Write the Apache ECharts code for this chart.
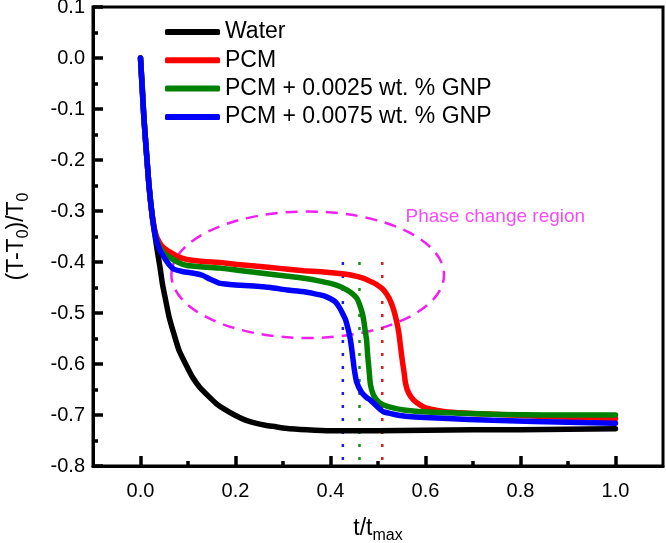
<!DOCTYPE html>
<html><head><meta charset="utf-8">
<script src="https://cdn.jsdelivr.net/npm/echarts@6/dist/echarts.min.js"></script>
<style>html,body{margin:0;padding:0;background:#fff}#c{width:666px;height:543px}</style>
</head><body><div id="c"></div>
<script>
const FONT = '"Liberation Sans", Arial, sans-serif';
const seriesNames = ['Water', 'PCM', 'PCM + 0.0025 wt. % GNP', 'PCM + 0.0075 wt. % GNP'];
const seriesColors = ['#000000', '#ff0000', '#008000', '#0000ff'];

const waterData = [[0,0],[0.004,-0.06],[0.007,-0.115],[0.012,-0.18],[0.0175,-0.246],[0.0246,-0.311],[0.03,-0.345],[0.035,-0.376],[0.041,-0.41],[0.046,-0.442],[0.053,-0.475],[0.06,-0.507],[0.07,-0.54],[0.081,-0.573],[0.095,-0.6],[0.109,-0.625],[0.125,-0.646],[0.144,-0.664],[0.16,-0.678],[0.179,-0.69],[0.2,-0.701],[0.221,-0.71],[0.242,-0.716],[0.263,-0.72],[0.285,-0.723],[0.305,-0.726],[0.35,-0.729],[0.4,-0.731],[0.5,-0.731],[0.6,-0.73],[0.7,-0.729],[0.8,-0.729],[0.9,-0.728],[1.0,-0.727]];

const pcmData = [[0,0],[0.007,-0.115],[0.0175,-0.246],[0.025,-0.311],[0.032,-0.345],[0.04,-0.362],[0.049,-0.372],[0.063,-0.381],[0.08,-0.39],[0.098,-0.395],[0.133,-0.399],[0.168,-0.401],[0.204,-0.405],[0.24,-0.408],[0.274,-0.411],[0.31,-0.414],[0.344,-0.417],[0.38,-0.419],[0.414,-0.422],[0.445,-0.426],[0.47,-0.432],[0.484,-0.438],[0.497,-0.444],[0.512,-0.455],[0.524,-0.472],[0.533,-0.494],[0.54,-0.52],[0.544,-0.54],[0.548,-0.57],[0.551,-0.592],[0.555,-0.617],[0.558,-0.638],[0.564,-0.656],[0.575,-0.671],[0.59,-0.681],[0.604,-0.687],[0.625,-0.691],[0.646,-0.694],[0.7,-0.697],[0.758,-0.699],[0.85,-0.703],[0.95,-0.706],[1.0,-0.707]];

const gnp25Data = [[0,0],[0.007,-0.115],[0.0175,-0.246],[0.025,-0.311],[0.032,-0.35],[0.04,-0.37],[0.049,-0.382],[0.063,-0.392],[0.08,-0.401],[0.098,-0.407],[0.133,-0.41],[0.168,-0.412],[0.204,-0.416],[0.24,-0.42],[0.274,-0.424],[0.31,-0.428],[0.344,-0.432],[0.375,-0.437],[0.4,-0.442],[0.42,-0.448],[0.435,-0.455],[0.447,-0.463],[0.456,-0.472],[0.465,-0.494],[0.47,-0.514],[0.473,-0.535],[0.476,-0.553],[0.478,-0.58],[0.481,-0.61],[0.484,-0.64],[0.49,-0.66],[0.497,-0.67],[0.505,-0.677],[0.52,-0.683],[0.554,-0.69],[0.625,-0.695],[0.758,-0.699],[0.85,-0.7],[1.0,-0.7]];

const gnp75Data = [[0,0],[0.007,-0.115],[0.0175,-0.246],[0.025,-0.311],[0.032,-0.352],[0.04,-0.375],[0.049,-0.39],[0.06,-0.405],[0.07,-0.414],[0.09,-0.419],[0.112,-0.422],[0.13,-0.426],[0.145,-0.433],[0.168,-0.442],[0.2,-0.445],[0.239,-0.447],[0.274,-0.45],[0.309,-0.455],[0.34,-0.458],[0.365,-0.462],[0.385,-0.466],[0.4,-0.472],[0.41,-0.478],[0.418,-0.488],[0.425,-0.5],[0.432,-0.514],[0.438,-0.535],[0.442,-0.553],[0.446,-0.58],[0.45,-0.61],[0.455,-0.635],[0.465,-0.655],[0.475,-0.665],[0.484,-0.671],[0.5,-0.685],[0.512,-0.694],[0.554,-0.702],[0.625,-0.706],[0.758,-0.711],[0.9,-0.714],[1.0,-0.716]];

const dottedRed = [[0.509,-0.4],[0.509,-0.8]];
const dottedGreen = [[0.461,-0.4],[0.461,-0.8]];
const dottedBlue = [[0.426,-0.4],[0.426,-0.8]];

// ellipse: centre x, centre y, radius x, radius y (data units)
const regionEllipse = [0.352, -0.425, 0.287, 0.124];
const regionLabel = 'Phase change region';
const regionLabelPos = [0.558, -0.312];

const xMajorTicks = [0, 0.2, 0.4, 0.6, 0.8, 1.0];
const xMinorTicks = [0.1, 0.3, 0.5, 0.7, 0.9];
const yMin = -0.8, yMax = 0.1, yStep = 0.1;
const xMin = -0.1, xMax = 1.1;

const chart = echarts.init(document.getElementById('c'), null, {renderer: 'canvas'});
const fmt = v => (Math.abs(v) < 1e-9 ? 0 : v).toFixed(1);
const tickStyle = {color: '#000', width: 3.5};

const curves = [waterData, pcmData, gnp25Data, gnp75Data].map((d, i) => ({
  name: seriesNames[i], type: 'line', data: d, symbol: 'none', smooth: 0.15,
  color: seriesColors[i], lineStyle: {width: 5.5, color: seriesColors[i], cap: 'round', join: 'round'},
  z: 3 + i, animation: false
}));
const dotted = [[dottedBlue, '#1a1aee'], [dottedGreen, '#1e8a1e'], [dottedRed, '#d42020']].map(([d, c]) => ({
  type: 'line', data: d, symbol: 'none', silent: true, z: 2, animation: false,
  lineStyle: {width: 2.5, color: c, type: [3, 10]}
}));

chart.setOption({
  backgroundColor: '#fff',
  animation: false,
  grid: {left: 93, top: 7, right: 3, bottom: 77, show: true, borderColor: '#000', borderWidth: 3, backgroundColor: 'transparent', containLabel: false, outerBoundsMode: 'none'},
  legend: {
    data: seriesNames, orient: 'vertical', left: 160, top: 15, itemWidth: 55, itemHeight: 6, itemGap: 4.3,
    icon: 'roundRect', textStyle: {fontSize: 23, fontFamily: FONT, color: '#000', lineHeight: 24}
  },
  xAxis: [{
    type: 'value', min: xMin, max: xMax, position: 'bottom',
    axisLine: {show: true, onZero: false, lineStyle: {color: '#000', width: 3}},
    axisTick: {show: true, inside: true, length: 10, customValues: xMajorTicks, lineStyle: tickStyle},
    axisLabel: {customValues: xMajorTicks, formatter: fmt, fontSize: 20, color: '#000', margin: 15, fontFamily: FONT},
    splitLine: {show: false},
    name: '{a|t/t}{s|max}', nameLocation: 'middle', nameGap: 48,
    nameTextStyle: {rich: {a: {fontSize: 23, fontFamily: FONT, color: '#000', lineHeight: 30, verticalAlign: 'middle'}, s: {fontSize: 16, fontFamily: FONT, color: '#000', lineHeight: 16, verticalAlign: 'bottom'}}}
  }, {
    type: 'value', min: xMin, max: xMax, position: 'bottom', gridIndex: 0,
    axisLine: {show: false, onZero: false},
    axisTick: {show: true, inside: true, length: 5, customValues: xMinorTicks, lineStyle: tickStyle},
    axisLabel: {show: false}, splitLine: {show: false}
  }],
  yAxis: {
    type: 'value', min: yMin, max: yMax, interval: yStep,
    axisLine: {show: true, onZero: false, lineStyle: {color: '#000', width: 3}},
    axisTick: {show: true, inside: true, length: 10, lineStyle: tickStyle},
    minorTick: {show: true, splitNumber: 2, length: 5, lineStyle: tickStyle},
    axisLabel: {formatter: fmt, fontSize: 20, color: '#000', margin: 8, fontFamily: FONT},
    splitLine: {show: false}, minorSplitLine: {show: false},
    name: '{a|(T-T}{s|0}{a|)/T}{s|0}', nameLocation: 'middle', nameGap: 61, nameRotate: 90,
    nameTextStyle: {rich: {a: {fontSize: 23, fontFamily: FONT, color: '#000', lineHeight: 30, verticalAlign: 'middle'}, s: {fontSize: 16, fontFamily: FONT, color: '#000', lineHeight: 16, verticalAlign: 'bottom'}}}
  },
  series: [
    ...dotted,
    {
      type: 'custom', silent: true, z: 1, animation: false,
      data: [regionEllipse],
      renderItem: (params, api) => {
        const c = api.coord([api.value(0), api.value(1)]);
        const s = api.size([api.value(2), api.value(3)]);
        return {type: 'ellipse', shape: {cx: c[0], cy: c[1], rx: s[0], ry: s[1]},
          style: {fill: 'none', stroke: '#f020f0', lineWidth: 2.5, lineDash: [12, 8]}};
      }
    },
    {
      type: 'scatter', silent: true, data: [regionLabelPos], symbolSize: 0, z: 2, animation: false,
      label: {show: true, position: 'right', distance: 0, formatter: regionLabel, fontSize: 19, fontFamily: FONT, color: '#f020f0'}
    },
    ...curves
  ]
});
</script></body></html>
